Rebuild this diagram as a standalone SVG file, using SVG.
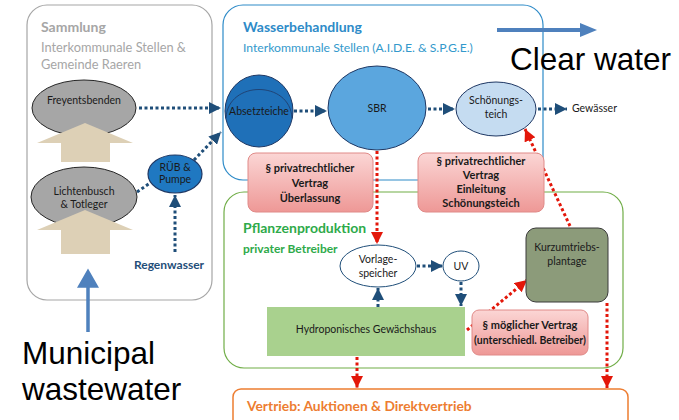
<svg xmlns="http://www.w3.org/2000/svg" width="679" height="420" viewBox="0 0 679 420">
<defs>
<style>
text{font-family:Lato,"Open Sans","Liberation Sans",sans-serif;}
.big{font-family:"Liberation Sans",Arial,sans-serif;font-size:31.5px;fill:#000;}
.lbl{font-size:10.5px;fill:#1a1a1a;text-anchor:middle;}
.rl{font-size:11px;font-weight:bold;fill:#1a1a1a;text-anchor:middle;}
.nd{stroke:#1f4e79;stroke-width:3;stroke-dasharray:3 2.5;fill:none;}
.rd{stroke:#e3170a;stroke-width:3;stroke-dasharray:3 2.5;fill:none;}
.rbox{fill:url(#pink);stroke:#e08a88;stroke-width:1;}
</style>
<linearGradient id="pink" x1="0" y1="0" x2="0" y2="1">
<stop offset="0" stop-color="#fbd6d5"/>
<stop offset="1" stop-color="#ee9896"/>
</linearGradient>
<marker id="an" viewBox="0 0 10 10" refX="10" refY="5" markerWidth="12" markerHeight="12" markerUnits="userSpaceOnUse" orient="auto">
<path d="M0,0 L10,5 L0,10 z" fill="#1f4e79"/>
</marker>
<marker id="ar" viewBox="0 0 10 10" refX="10" refY="5" markerWidth="12" markerHeight="12" markerUnits="userSpaceOnUse" orient="auto">
<path d="M0,0 L10,5 L0,10 z" fill="#e3170a"/>
</marker>
</defs>

<!-- containers -->
<g id="sammlung">
<rect x="27" y="5" width="185" height="295" rx="20" fill="#fff" stroke="#a6a6a6" stroke-width="1.2"/>
<text x="41" y="32" font-size="14" font-weight="bold" fill="#a6a6a6">Sammlung</text>
<text x="41" y="52" font-size="12.8" fill="#a6a6a6">Interkommunale Stellen &amp;</text>
<text x="41" y="69" font-size="12.8" fill="#a6a6a6">Gemeinde Raeren</text>
</g>
<g id="wasserbehandlung">
<rect x="223" y="5" width="320" height="175" rx="20" fill="#fff" stroke="#2e8bc8" stroke-width="1.2"/>
<text x="243" y="32" font-size="14" font-weight="bold" fill="#2e8bc8">Wasserbehandlung</text>
<text x="243" y="52" font-size="12.2" fill="#3399cc">Interkommunale Stellen (A.I.D.E. &amp; S.P.G.E.)</text>
</g>
<g id="pflanzenproduktion">
<rect x="224" y="192" width="399" height="176" rx="20" fill="none" stroke="#70ad47" stroke-width="1.2"/>
<text x="243" y="233" font-size="14" font-weight="bold" fill="#2eaa4a">Pflanzenproduktion</text>
<text x="243" y="253" font-size="12" font-weight="bold" fill="#2eaa4a">privater Betreiber</text>
</g>
<g id="vertrieb">
<rect x="233" y="389" width="395" height="40" rx="8" fill="#fff" stroke="#ed7d31" stroke-width="1.5"/>
<text x="247" y="411" font-size="13.8" font-weight="bold" fill="#ed7d31">Vertrieb: Auktionen &amp; Direktvertrieb</text>
</g>

<!-- connectors -->
<g id="connectors">
<line class="nd" x1="139" y1="108" x2="221" y2="108" marker-end="url(#an)"/>
<line class="nd" x1="137" y1="192" x2="150" y2="183"/>
<line class="nd" x1="194" y1="160" x2="221" y2="132" marker-end="url(#an)"/>
<line class="nd" x1="175" y1="252" x2="175" y2="195" marker-end="url(#an)"/>
<line class="nd" x1="294" y1="111" x2="327" y2="111" marker-end="url(#an)"/>
<line class="nd" x1="428" y1="109" x2="455" y2="109" marker-end="url(#an)"/>
<line class="nd" x1="538" y1="109" x2="567" y2="109" marker-end="url(#an)"/>
<line class="nd" x1="417" y1="266" x2="443" y2="266" marker-end="url(#an)"/>
<line class="nd" x1="378" y1="307" x2="378" y2="288" marker-end="url(#an)"/>
<line class="nd" x1="461" y1="282" x2="461" y2="306" marker-end="url(#an)"/>
<line class="rd" x1="377" y1="151" x2="377" y2="244" marker-end="url(#ar)"/>
<line class="rd" x1="570" y1="226" x2="525" y2="129" marker-end="url(#ar)"/>
<line class="rd" x1="467" y1="330" x2="527" y2="280" marker-end="url(#ar)"/>
<line class="rd" x1="357" y1="357" x2="357" y2="388" marker-end="url(#ar)"/>
<line class="rd" x1="607" y1="303" x2="607" y2="388" marker-end="url(#ar)"/>
<path d="M88,332 L88,286 L80,286 L88,272 L96,286 L88,286" fill="#4f81bd" stroke="#4f81bd" stroke-width="3.5" stroke-linejoin="miter"/>
<path d="M497,30 L582,30" stroke="#4f81bd" stroke-width="4" fill="none"/>
<path d="M580,23 L597,30 L580,37 z" fill="#4f81bd"/>
</g>

<!-- nodes -->
<g id="freyentsbenden">
<ellipse cx="84" cy="108" rx="52" ry="28" fill="#a6a6a6" stroke="#262626" stroke-width="1"/>
<text x="84" y="104" class="lbl" font-size="11.5">Freyentsbenden</text>
<path d="M61,162 L61,143 L37,143 L85,123 L133,143 L110,143 L110,162 z" fill="#ddd0b6"/>
</g>
<g id="lichtenbusch">
<ellipse cx="84" cy="197" rx="53" ry="30" fill="#a6a6a6" stroke="#262626" stroke-width="1"/>
<text x="84" y="195" class="lbl" font-size="10.5">Lichtenbusch</text>
<text x="84" y="208" class="lbl" font-size="10.5">&amp; Totleger</text>
<path d="M61,254 L61,230 L37,230 L85,210 L133,230 L110,230 L110,254 z" fill="#ddd0b6"/>
</g>
<g id="rueb">
<ellipse cx="175" cy="174" rx="27" ry="19" fill="#1f78c1" stroke="#1f3864" stroke-width="1.2"/>
<text x="175" y="171" class="lbl" font-size="10" fill="#1f3864">RÜB &amp;</text>
<text x="175" y="183" class="lbl" font-size="10" fill="#1f3864">Pumpe</text>
</g>
<g id="regenwasser">
<text x="169" y="269" font-size="12" font-weight="bold" fill="#1f4e79" text-anchor="middle">Regenwasser</text>
</g>
<g id="absetzteiche">
<ellipse cx="259" cy="111" rx="34" ry="36" fill="#1f70b8" stroke="#1f3864" stroke-width="1"/>
<path d="M226,118 C228,80 290,80 292,118" fill="none" stroke="#1f3864" stroke-width="0.8"/>
<text x="259" y="115" class="lbl" font-size="10.2" fill="#14305a">Absetzteiche</text>
</g>
<g id="sbr">
<ellipse cx="377" cy="108" rx="49" ry="42" fill="#5ba6de" stroke="#1f3864" stroke-width="1"/>
<text x="377" y="112" class="lbl" font-size="11" fill="#14305a">SBR</text>
</g>
<g id="schoenungsteich">
<ellipse cx="496" cy="109" rx="40" ry="27" fill="#c5dcf1" stroke="#1f3864" stroke-width="1"/>
<text x="496" y="104" class="lbl" font-size="10.5">Schönungs-</text>
<text x="496" y="118" class="lbl" font-size="10.5">teich</text>
</g>
<g id="gewaesser">
<text x="572" y="112" font-size="10.5" fill="#1a1a1a">Gewässer</text>
</g>
<g id="vertrag1">
<rect class="rbox" x="248" y="153" width="125" height="59" rx="8"/>
<text x="310" y="172" class="rl">§ privatrechtlicher</text>
<text x="310" y="187" class="rl">Vertrag</text>
<text x="310" y="202" class="rl">Überlassung</text>
</g>
<g id="vertrag2">
<rect class="rbox" x="418" y="153" width="126" height="59" rx="8"/>
<text x="481" y="165" class="rl">§ privatrechtlicher</text>
<text x="481" y="179" class="rl">Vertrag</text>
<text x="481" y="193" class="rl">Einleitung</text>
<text x="481" y="207" class="rl">Schönungsteich</text>
</g>
<g id="vorlagespeicher">
<ellipse cx="378" cy="266" rx="38" ry="21" fill="#fff" stroke="#1f4e79" stroke-width="1"/>
<text x="378" y="263" class="lbl" font-size="10.5">Vorlage-</text>
<text x="378" y="277" class="lbl" font-size="10.5">speicher</text>
</g>
<g id="uv">
<ellipse cx="461" cy="266" rx="18" ry="15" fill="#fff" stroke="#1f4e79" stroke-width="1"/>
<text x="461" y="270" class="lbl" font-size="10.5">UV</text>
</g>
<g id="gewaechshaus">
<rect x="267" y="307" width="198" height="49" fill="#a9d18e"/>
<text x="366" y="333" class="lbl" font-size="11.3">Hydroponisches Gewächshaus</text>
</g>
<g id="vertrag3">
<rect class="rbox" x="472" y="310" width="116" height="45" rx="7"/>
<text x="530" y="329" class="rl" font-size="11.5">§ möglicher Vertrag</text>
<text x="530" y="344" class="lbl" font-size="8.3" font-weight="bold">(unterschiedl. Betreiber)</text>
</g>
<g id="kurzumtrieb">
<rect x="526" y="228" width="82" height="74" rx="10" fill="#8c9b7a" stroke="#3a3a3a" stroke-width="1"/>
<text x="567" y="251" class="lbl" font-size="10.5">Kurzumtriebs-</text>
<text x="567" y="265" class="lbl" font-size="10.5">plantage</text>
</g>
<g id="captions">
<text x="510" y="70" class="big">Clear water</text>
<text x="22" y="364" class="big">Municipal</text>
<text x="22" y="400" class="big">wastewater</text>
</g>
</svg>
